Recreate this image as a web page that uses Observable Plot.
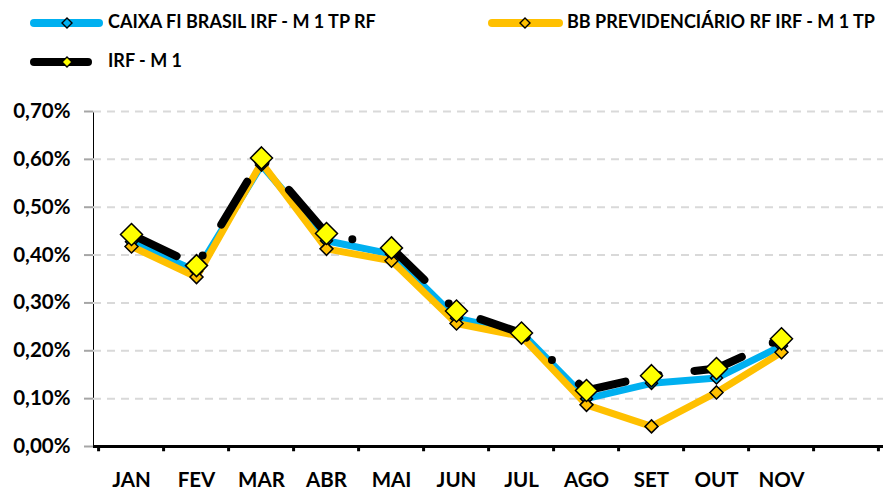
<!DOCTYPE html>
<html><head><meta charset="utf-8">
<script src="https://cdn.jsdelivr.net/npm/d3@7"></script>
<script src="https://cdn.jsdelivr.net/npm/@observablehq/plot@0.6"></script>
<style>
body{margin:0;background:#fff;font-family:Lato, "Open Sans", sans-serif;}
#legend{position:relative;height:80px;width:885px;overflow:hidden;}
.sw{position:absolute;height:14px;}
.lt{position:absolute;height:22px;line-height:22px;font-weight:700;font-size:18px;white-space:nowrap;color:#000;}
#chart svg g[aria-label^="y-axis"] line, #chart svg g[aria-label^="y-axis"] path{stroke:#a6a6a6;stroke-width:2px;}
</style>
</head><body>
<div id="legend"></div>
<div id="chart"></div>
<script>
const months = ["JAN","FEV","MAR","ABR","MAI","JUN","JUL","AGO","SET","OUT","NOV"];
const xDomain = months.concat([""]);
const caixa = [0.428, 0.366, 0.588, 0.430, 0.402, 0.268, 0.238, 0.100, 0.132, 0.143, 0.210];
const bb    = [0.418, 0.354, 0.593, 0.413, 0.388, 0.257, 0.230, 0.087, 0.042, 0.113, 0.197];
const irf   = [0.443, 0.378, 0.603, 0.445, 0.415, 0.283, 0.237, 0.117, 0.148, 0.163, 0.225];
const yTicks = [0, 0.1, 0.2, 0.3, 0.4, 0.5, 0.6, 0.7];
const seriesNames = ["CAIXA FI BRASIL IRF - M 1 TP RF", "BB PREVIDENCIÁRIO RF IRF - M 1 TP", "IRF - M 1"];
const colors = {blue:"#00B0F0", orange:"#FFC000", black:"#000000", yellow:"#FFFF00"};

const rows = months.map((m,i)=>({m, caixa:caixa[i], bb:bb[i], irf:irf[i]}));
const fmt = d => d.toFixed(2).replace(".", ",") + "%";

const diamond = {draw(ctx, size){ const h = Math.sqrt(size/Math.PI); ctx.moveTo(0,-h); ctx.lineTo(h,0); ctx.lineTo(0,h); ctx.lineTo(-h,0); ctx.closePath(); }};

// legend
const legendItems = [
  {name: seriesNames[0], line: colors.blue, fill: colors.blue, sx: 30, w: 73, cy: 21, tx: 108},
  {name: seriesNames[1], line: colors.orange, fill: colors.orange, sx: 488, w: 75, cy: 21, tx: 567},
  {name: seriesNames[2], line: colors.black, fill: colors.yellow, sx: 30, w: 62, cy: 60, tx: 108}
];
const legend = document.getElementById("legend");
for (const it of legendItems) {
  const sw = document.createElement("div");
  sw.className = "sw";
  sw.style.left = it.sx + "px";
  sw.style.top = (it.cy - 7) + "px";
  const c = 37;
  sw.innerHTML = `<svg width="${it.w}" height="14" viewBox="0 0 ${it.w} 14"><line x1="4" y1="7" x2="${it.w-4}" y2="7" stroke="${it.line}" stroke-width="8" stroke-linecap="round"/><path d="M${c},2L${c+5},7L${c},12L${c-5},7Z" fill="${it.fill}" stroke="#000" stroke-width="1.4"/></svg>`;
  legend.appendChild(sw);
  const t = document.createElement("div");
  t.className = "lt";
  t.style.left = it.tx + "px";
  t.style.top = (it.cy - 11) + "px";
  t.textContent = it.name;
  legend.appendChild(t);
}

const W = 885, H = 412, ml = 93, mr = 2;
const step = (W - ml - mr) / xDomain.length;

const plot = Plot.plot({
  width: W, height: H,
  marginTop: 31, marginBottom: 46, marginLeft: ml, marginRight: mr,
  style: {fontFamily: "Lato, 'Open Sans', sans-serif", fontSize: "20.5px", fontWeight: "bold", color: "#000", background: "#fff", overflow: "visible"},
  x: {type: "point", domain: xDomain, padding: 0.5, tickSize: 0, tickPadding: 26, label: null},
  y: {domain: [0, 0.7], ticks: yTicks, tickFormat: fmt, tickSize: 9, tickPadding: 14, label: null, line: true},
  marks: [
    Plot.ruleY(yTicks.filter(d => d > 0), {stroke: "#d9d9d9", strokeWidth: 2, strokeDasharray: "8 6"}),
    Plot.ruleY([0], {stroke: "#000", strokeWidth: 3}),
    Plot.ruleX(xDomain, {x: d => d, y1: 0, y2: -0.011, dx: -step/2, stroke: "#000", strokeWidth: 3}),
    Plot.ruleX([xDomain[xDomain.length-1]], {x: d => d, y1: 0, y2: -0.011, dx: step/2 - 1, stroke: "#000", strokeWidth: 3}),
    Plot.line(rows, {x: "m", y: "caixa", stroke: colors.blue, strokeWidth: 7, strokeLinejoin: "round"}),
    Plot.line(rows, {x: "m", y: "bb", stroke: colors.orange, strokeWidth: 7, strokeLinejoin: "round"}),
    Plot.line(rows, {x: "m", y: "irf", stroke: colors.black, strokeWidth: 8, strokeLinecap: "round", strokeDasharray: "50 34 0 36"}),
    Plot.dot(rows, {x: "m", y: "caixa", symbol: diamond, r: 6, fill: colors.blue, stroke: "#000", strokeWidth: 1.5}),
    Plot.dot(rows, {x: "m", y: "bb", symbol: diamond, r: 6.5, fill: colors.orange, stroke: "#000", strokeWidth: 1.5}),
    Plot.dot(rows, {x: "m", y: "irf", symbol: diamond, r: 11, fill: colors.yellow, stroke: "#000", strokeWidth: 1.5})
  ]
});
document.getElementById("chart").appendChild(plot);
</script>
</body></html>
